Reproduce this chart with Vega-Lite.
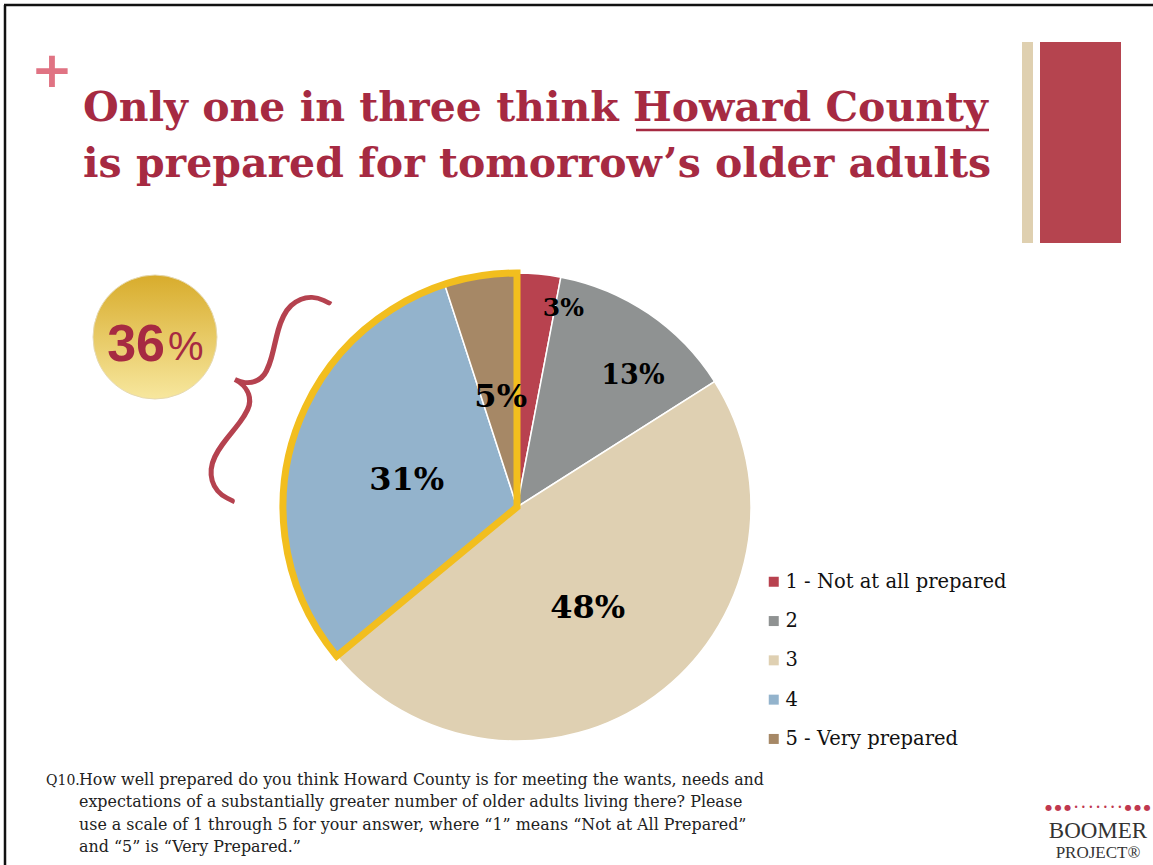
{
  "$schema": "https://vega.github.io/schema/vega-lite/v6.json",
  "width": 468,
  "height": 468,
  "autosize": {"type": "none"},
  "padding": {"left": 283, "top": 273, "right": 402, "bottom": 124},
  "background": "white",
  "config": {"view": {"stroke": null}},
  "title": {
    "text": ["Only one in three think Howard County", "is prepared for tomorrow’s older adults"],
    "anchor": "start",
    "frame": "group",
    "dx": -200,
    "offset": -182,
    "font": "DejaVu Serif",
    "fontWeight": "bold",
    "fontSize": 41,
    "lineHeight": 56,
    "color": "#A62A42"
  },
  "data": {
    "values": [
      {"rating": "1 - Not at all prepared", "pct": 3},
      {"rating": "2", "pct": 13},
      {"rating": "3", "pct": 48},
      {"rating": "4", "pct": 31},
      {"rating": "5 - Very prepared", "pct": 5}
    ]
  },
  "layer": [
    {
      "data": {"values": [{}]},
      "mark": {"type": "rule", "color": "#111111", "strokeWidth": 2.5},
      "encoding": {
        "x": {"datum": 4, "type": "quantitative", "scale": {"domain": [283, 751], "nice": false, "zero": false}, "axis": null},
        "x2": {"datum": 1153},
        "y": {"datum": 5, "type": "quantitative", "scale": {"domain": [273, 741], "nice": false, "zero": false, "reverse": true}, "axis": null}
      }
    },
    {
      "data": {"values": [{}]},
      "mark": {"type": "rule", "color": "#111111", "strokeWidth": 2.5},
      "encoding": {
        "x": {"datum": 5, "type": "quantitative", "axis": null},
        "y": {"datum": 5, "type": "quantitative", "axis": null},
        "y2": {"datum": 865}
      }
    },
    {
      "data": {"values": [{}]},
      "mark": {"type": "text", "text": "+", "font": "DejaVu Sans", "fontWeight": "bold", "fontSize": 50, "color": "#E07383", "align": "center", "baseline": "middle"},
      "encoding": {
        "x": {"datum": 52, "type": "quantitative", "axis": null},
        "y": {"datum": 72, "type": "quantitative", "axis": null}
      }
    },
    {
      "data": {"values": [{}]},
      "mark": {"type": "rect", "color": "#DFD0B0"},
      "encoding": {
        "x": {"datum": 1022, "type": "quantitative", "axis": null},
        "x2": {"datum": 1033},
        "y": {"datum": 42, "type": "quantitative", "axis": null},
        "y2": {"datum": 243}
      }
    },
    {
      "data": {"values": [{}]},
      "mark": {"type": "rect", "color": "#B5444F"},
      "encoding": {
        "x": {"datum": 1040, "type": "quantitative", "axis": null},
        "x2": {"datum": 1121},
        "y": {"datum": 42, "type": "quantitative", "axis": null},
        "y2": {"datum": 243}
      }
    },
    {
      "data": {"values": [{}]},
      "mark": {"type": "rule", "color": "#A62A42", "strokeWidth": 2.5},
      "encoding": {
        "x": {"datum": 636, "type": "quantitative", "axis": null},
        "x2": {"datum": 989},
        "y": {"datum": 130, "type": "quantitative", "axis": null}
      }
    },
    {
      "transform": [
        {"stack": "pct", "groupby": [], "sort": [{"field": "rating", "order": "ascending"}], "as": ["t0", "t1"]}
      ],
      "mark": {"type": "arc", "stroke": "white", "strokeWidth": 1.5},
      "encoding": {
        "theta": {"field": "t0", "type": "quantitative", "scale": {"domain": [0, 100]}},
        "theta2": {"field": "t1"},
        "color": {
          "field": "rating",
          "type": "nominal",
          "scale": {
            "domain": ["1 - Not at all prepared", "2", "3", "4", "5 - Very prepared"],
            "range": ["#B8424F", "#8F9292", "#DFD0B2", "#93B3CC", "#A68866"]
          },
          "legend": {
            "orient": "none",
            "legendX": 481,
            "legendY": 299,
            "title": null,
            "padding": 0,
            "symbolType": "square",
            "symbolSize": 100,
            "symbolStrokeWidth": 0,
            "labelFont": "DejaVu Serif",
            "labelFontSize": 19.5,
            "labelColor": "#111111",
            "labelOffset": 2,
            "labelLimit": 400,
            "rowPadding": 18.3
          }
        }
      }
    },
    {
      "transform": [
        {"stack": "pct", "groupby": [], "sort": [{"field": "rating", "order": "ascending"}], "as": ["t0", "t1"]},
        {"filter": "datum.rating == '4' || datum.rating == '5 - Very prepared'"},
        {"aggregate": [{"op": "min", "field": "t0", "as": "t0"}, {"op": "max", "field": "t1", "as": "t1"}]}
      ],
      "mark": {"type": "arc", "fill": null, "fillOpacity": 0, "stroke": "#F2BE1E", "strokeWidth": 7, "strokeJoin": "miter"},
      "encoding": {
        "theta": {"field": "t0", "type": "quantitative"},
        "theta2": {"field": "t1"}
      }
    },
    {
      "transform": [
        {"stack": "pct", "groupby": [], "sort": [{"field": "rating", "order": "ascending"}], "as": ["t0", "t1"]},
        {"calculate": "(datum.t0 + datum.t1) / 2", "as": "tmid"},
        {"calculate": "datum.pct + '%'", "as": "label"},
        {"filter": "datum.pct > 20 || datum.pct == 5"}
      ],
      "mark": {"type": "text", "font": "DejaVu Serif", "fontWeight": "bold", "fontSize": 32, "color": "#000000", "align": "center", "baseline": "middle", "dx": 2, "dy": 6},
      "encoding": {
        "theta": {"field": "tmid", "type": "quantitative", "stack": null},
        "radius": {"value": 117},
        "text": {"field": "label", "type": "nominal"}
      }
    },
    {
      "transform": [
        {"stack": "pct", "groupby": [], "sort": [{"field": "rating", "order": "ascending"}], "as": ["t0", "t1"]},
        {"calculate": "(datum.t0 + datum.t1) / 2", "as": "tmid"},
        {"calculate": "datum.pct + '%'", "as": "label"},
        {"filter": "datum.rating == '2'"}
      ],
      "mark": {"type": "text", "font": "DejaVu Serif", "fontWeight": "bold", "fontSize": 27, "color": "#000000", "align": "center", "baseline": "middle", "dx": 17, "dy": 15},
      "encoding": {
        "theta": {"field": "tmid", "type": "quantitative", "stack": null},
        "radius": {"value": 176},
        "text": {"field": "label", "type": "nominal"}
      }
    },
    {
      "transform": [
        {"stack": "pct", "groupby": [], "sort": [{"field": "rating", "order": "ascending"}], "as": ["t0", "t1"]},
        {"calculate": "(datum.t0 + datum.t1) / 2", "as": "tmid"},
        {"calculate": "datum.pct + '%'", "as": "label"},
        {"filter": "datum.rating == '1 - Not at all prepared'"}
      ],
      "mark": {"type": "text", "font": "DejaVu Serif", "fontWeight": "bold", "fontSize": 25, "color": "#000000", "align": "center", "baseline": "middle", "dx": 27, "dy": 6},
      "encoding": {
        "theta": {"field": "tmid", "type": "quantitative", "stack": null},
        "radius": {"value": 206},
        "text": {"field": "label", "type": "nominal"}
      }
    },
    {
      "data": {"values": [{}]},
      "mark": {
        "type": "point",
        "shape": "circle",
        "filled": true,
        "size": 15376,
        "fill": {
          "gradient": "linear", "x1": 0, "y1": 0, "x2": 0, "y2": 1,
          "stops": [{"offset": 0, "color": "#D8AC2C"}, {"offset": 1, "color": "#F7E79E"}]
        },
        "stroke": "#E6D9B0",
        "strokeWidth": 1,
        "opacity": 1
      },
      "encoding": {
        "x": {"datum": 155, "type": "quantitative", "axis": null},
        "y": {"datum": 337, "type": "quantitative", "axis": null}
      }
    },
    {
      "transform": [
        {"filter": "datum.rating == '4' || datum.rating == '5 - Very prepared'"},
        {"aggregate": [{"op": "sum", "field": "pct", "as": "total"}]}
      ],
      "mark": {"type": "text", "font": "Liberation Sans", "fontWeight": "bold", "fontSize": 52, "color": "#A62A42", "align": "right", "baseline": "alphabetic"},
      "encoding": {
        "x": {"datum": 165, "type": "quantitative", "axis": null},
        "y": {"datum": 361, "type": "quantitative", "axis": null},
        "text": {"field": "total", "type": "quantitative"}
      }
    },
    {
      "data": {"values": [{}]},
      "mark": {"type": "text", "text": "%", "font": "Liberation Sans", "fontSize": 40, "color": "#A62A42", "align": "left", "baseline": "alphabetic"},
      "encoding": {
        "x": {"datum": 168, "type": "quantitative", "axis": null},
        "y": {"datum": 360, "type": "quantitative", "axis": null}
      }
    },
    {
      "data": {"values": [{}]},
      "mark": {"type": "text", "text": "{", "font": "Lato", "fontWeight": 100, "fontSize": 255, "color": "#B5424F", "stroke": "#B5424F", "strokeWidth": 2.5, "align": "center", "baseline": "middle", "angle": 26},
      "encoding": {
        "x": {"datum": 257, "type": "quantitative", "axis": null},
        "y": {"datum": 394, "type": "quantitative", "axis": null}
      }
    },
    {
      "data": {"values": [{}]},
      "mark": {"type": "text", "text": "Q10.", "font": "DejaVu Serif", "fontSize": 14, "color": "#222222", "align": "left", "baseline": "alphabetic"},
      "encoding": {
        "x": {"datum": 46, "type": "quantitative", "axis": null},
        "y": {"datum": 785, "type": "quantitative", "axis": null}
      }
    },
    {
      "data": {"values": [{}]},
      "mark": {
        "type": "text",
        "text": [
          "How well prepared do you think Howard County is for meeting the wants, needs and",
          "expectations of a substantially greater number of older adults living there? Please",
          "use a scale of 1 through 5 for your answer, where “1” means “Not at All Prepared”",
          "and “5” is “Very Prepared.”"
        ],
        "font": "DejaVu Serif", "fontSize": 15.9, "lineHeight": 22.4, "color": "#222222", "align": "left", "baseline": "alphabetic"
      },
      "encoding": {
        "x": {"datum": 79, "type": "quantitative", "axis": null},
        "y": {"datum": 785, "type": "quantitative", "axis": null}
      }
    },
    {
      "data": {"values": [{}]},
      "mark": {"type": "text", "text": "● ● ● • • • • • • • ● ● ●", "font": "DejaVu Sans", "fontSize": 8, "color": "#C0384F", "align": "center", "baseline": "middle"},
      "encoding": {
        "x": {"datum": 1098, "type": "quantitative", "axis": null},
        "y": {"datum": 808, "type": "quantitative", "axis": null}
      }
    },
    {
      "data": {"values": [{}]},
      "mark": {"type": "text", "text": "BOOMER", "font": "Liberation Serif", "fontSize": 23, "color": "#333333", "align": "center", "baseline": "alphabetic"},
      "encoding": {
        "x": {"datum": 1098, "type": "quantitative", "axis": null},
        "y": {"datum": 838, "type": "quantitative", "axis": null}
      }
    },
    {
      "data": {"values": [{}]},
      "mark": {"type": "text", "text": "PROJECT®", "font": "Liberation Serif", "fontSize": 17, "color": "#333333", "align": "center", "baseline": "alphabetic"},
      "encoding": {
        "x": {"datum": 1098, "type": "quantitative", "axis": null},
        "y": {"datum": 858, "type": "quantitative", "axis": null}
      }
    }
  ]
}
